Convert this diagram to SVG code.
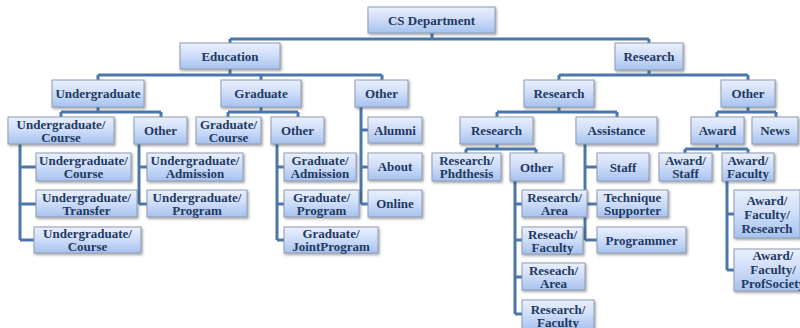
<svg xmlns="http://www.w3.org/2000/svg" width="800" height="328" viewBox="0 0 800 328">
<defs>
<linearGradient id="g" x1="0" y1="0" x2="0" y2="1">
<stop offset="0" stop-color="#eaf0fd"/>
<stop offset="0.5" stop-color="#cddcf8"/>
<stop offset="1" stop-color="#a6c2ef"/>
</linearGradient>
<filter id="sh" x="-10%" y="-20%" width="130%" height="160%">
<feDropShadow dx="1.2" dy="1.5" stdDeviation="1" flood-color="#333" flood-opacity="0.45"/>
</filter>
<style>
.b{fill:url(#g);stroke:#8e9cb2;stroke-width:1;filter:url(#sh)}
.t{font-family:"Liberation Serif","Times New Roman",serif;font-weight:bold;font-size:13px;fill:#1f3a62;text-anchor:middle}
.c{fill:none;stroke:#4a76ab;stroke-width:3}
</style>
</defs>
<rect width="800" height="328" fill="#ffffff"/>
<g id="connectors">
<path class="c" d="M432 33V39M230 39H649M230 39V43M649 39V43"/>
<path class="c" d="M230 69V75M98 75H382M98 75V80M261 75V80M382 75V80"/>
<path class="c" d="M649 70V75M559 75H748M559 75V80M748 75V80"/>
<path class="c" d="M98 107V112M61 112H161M61 112V117M161 112V117"/>
<path class="c" d="M261 107V112M228 112H298M228 112V117M298 112V117"/>
<path class="c" d="M361 107V204M361 130H368M361 167H368M361 204H368"/>
<path class="c" d="M559 107V112M497 112H617M497 112V117M617 112V117"/>
<path class="c" d="M748 107V112M717 112H776M717 112V117M776 112V117"/>
<path class="c" d="M20 144V240M20 167H36M20 204H36M20 240H34"/>
<path class="c" d="M139 144V204M139 167H147M139 204H147"/>
<path class="c" d="M277 144V240M277 167H284M277 204H284M277 240H284"/>
<path class="c" d="M497 144V149M466 149H536M466 149V153M536 149V153"/>
<path class="c" d="M585 144V240M585 167H597M585 204H597M585 240H597"/>
<path class="c" d="M515 181V314M515 204H522M515 240H522M515 277H522M515 314H522"/>
<path class="c" d="M717 144V149M685 149H748M685 149V153M748 149V153"/>
<path class="c" d="M727 181V270M727 214H734M727 270H734"/>
</g>
<g id="cs-department"><rect class="b" x="368" y="7" width="127" height="26"/><text class="t" x="431.5" y="24.5">CS Department</text></g>
<g id="education"><rect class="b" x="180" y="43" width="100" height="26"/><text class="t" x="230" y="60.5">Education</text></g>
<g id="research"><rect class="b" x="615" y="43" width="68" height="27"/><text class="t" x="649" y="61">Research</text></g>
<g id="undergraduate"><rect class="b" x="52" y="80" width="92" height="27"/><text class="t" x="98" y="98">Undergraduate</text></g>
<g id="graduate"><rect class="b" x="221" y="80" width="80" height="27"/><text class="t" x="261" y="98">Graduate</text></g>
<g id="edu-other"><rect class="b" x="355" y="80" width="53" height="27"/><text class="t" x="381.5" y="98">Other</text></g>
<g id="research-research"><rect class="b" x="524" y="80" width="70" height="27"/><text class="t" x="559" y="98">Research</text></g>
<g id="research-other"><rect class="b" x="721" y="80" width="54" height="27"/><text class="t" x="748" y="98">Other</text></g>
<g id="ug-course"><rect class="b" x="8" y="117" width="106" height="27"/><text class="t" x="61" y="128.5">Undergraduate/</text><text class="t" x="61" y="141.5">Course</text></g>
<g id="ug-other"><rect class="b" x="134" y="117" width="53" height="27"/><text class="t" x="160.5" y="135">Other</text></g>
<g id="grad-course"><rect class="b" x="196" y="117" width="65" height="27"/><text class="t" x="228.5" y="128.5">Graduate/</text><text class="t" x="228.5" y="141.5">Course</text></g>
<g id="grad-other"><rect class="b" x="271" y="117" width="53" height="27"/><text class="t" x="297.5" y="135">Other</text></g>
<g id="alumni"><rect class="b" x="368" y="117" width="54" height="26"/><text class="t" x="395" y="134.5">Alumni</text></g>
<g id="about"><rect class="b" x="368" y="153" width="54" height="27"/><text class="t" x="395" y="171">About</text></g>
<g id="online"><rect class="b" x="368" y="190" width="54" height="27"/><text class="t" x="395" y="208">Online</text></g>
<g id="research-l3"><rect class="b" x="460" y="117" width="73" height="27"/><text class="t" x="496.5" y="135">Research</text></g>
<g id="assistance"><rect class="b" x="576" y="117" width="81" height="27"/><text class="t" x="616.5" y="135">Assistance</text></g>
<g id="award"><rect class="b" x="691" y="117" width="53" height="27"/><text class="t" x="717.5" y="135">Award</text></g>
<g id="news"><rect class="b" x="752" y="117" width="46" height="27"/><text class="t" x="775" y="135">News</text></g>
<g id="ug-course-2"><rect class="b" x="36" y="153" width="95" height="28"/><text class="t" x="83.5" y="165">Undergraduate/</text><text class="t" x="83.5" y="178">Course</text></g>
<g id="ug-transfer"><rect class="b" x="36" y="190" width="101" height="27"/><text class="t" x="86.5" y="201.5">Undergraduate/</text><text class="t" x="86.5" y="214.5">Transfer</text></g>
<g id="ug-course-3"><rect class="b" x="34" y="227" width="107" height="26"/><text class="t" x="87.5" y="238">Undergraduate/</text><text class="t" x="87.5" y="251">Course</text></g>
<g id="ug-admission"><rect class="b" x="147" y="153" width="96" height="28"/><text class="t" x="195" y="165">Undergraduate/</text><text class="t" x="195" y="178">Admission</text></g>
<g id="ug-program"><rect class="b" x="147" y="190" width="100" height="27"/><text class="t" x="197" y="201.5">Undergraduate/</text><text class="t" x="197" y="214.5">Program</text></g>
<g id="grad-admission"><rect class="b" x="284" y="153" width="72" height="28"/><text class="t" x="320" y="165">Graduate/</text><text class="t" x="320" y="178">Admission</text></g>
<g id="grad-program"><rect class="b" x="284" y="190" width="75" height="27"/><text class="t" x="321.5" y="201.5">Graduate/</text><text class="t" x="321.5" y="214.5">Program</text></g>
<g id="grad-jointprogram"><rect class="b" x="284" y="227" width="94" height="26"/><text class="t" x="331" y="238">Graduate/</text><text class="t" x="331" y="251">JointProgram</text></g>
<g id="research-phdthesis"><rect class="b" x="432" y="153" width="69" height="28"/><text class="t" x="466.5" y="165">Research/</text><text class="t" x="466.5" y="178">Phdthesis</text></g>
<g id="research-other-l4"><rect class="b" x="510" y="153" width="53" height="28"/><text class="t" x="536.5" y="171.5">Other</text></g>
<g id="research-area"><rect class="b" x="522" y="190" width="65" height="27"/><text class="t" x="554.5" y="201.5">Research/</text><text class="t" x="554.5" y="214.5">Area</text></g>
<g id="reseach-faculty"><rect class="b" x="522" y="227" width="61" height="27"/><text class="t" x="552.5" y="238.5">Reseach/</text><text class="t" x="552.5" y="251.5">Faculty</text></g>
<g id="reseach-area"><rect class="b" x="522" y="263" width="63" height="27"/><text class="t" x="553.5" y="274.5">Reseach/</text><text class="t" x="553.5" y="287.5">Area</text></g>
<g id="research-faculty"><rect class="b" x="522" y="300" width="72" height="30"/><text class="t" x="558" y="313.5">Research/</text><text class="t" x="558" y="326.5">Faculty</text></g>
<g id="staff"><rect class="b" x="597" y="153" width="52" height="28"/><text class="t" x="623" y="171.5">Staff</text></g>
<g id="technique-supporter"><rect class="b" x="597" y="190" width="71" height="27"/><text class="t" x="632.5" y="201.5">Technique</text><text class="t" x="632.5" y="214.5">Supporter</text></g>
<g id="programmer"><rect class="b" x="597" y="227" width="89" height="26"/><text class="t" x="641.5" y="244.5">Programmer</text></g>
<g id="award-staff"><rect class="b" x="659" y="153" width="53" height="28"/><text class="t" x="685.5" y="165">Award/</text><text class="t" x="685.5" y="178">Staff</text></g>
<g id="award-faculty"><rect class="b" x="722" y="153" width="52" height="28"/><text class="t" x="748" y="165">Award/</text><text class="t" x="748" y="178">Faculty</text></g>
<g id="award-faculty-research"><rect class="b" x="734" y="190" width="66" height="48"/><text class="t" x="767" y="204.5">Award/</text><text class="t" x="767" y="218.5">Faculty/</text><text class="t" x="767" y="232.5">Research</text></g>
<g id="award-faculty-profsociety"><rect class="b" x="734" y="249" width="78" height="42"/><text class="t" x="773" y="259.5">Award/</text><text class="t" x="773" y="273.5">Faculty/</text><text class="t" x="773" y="287.5">ProfSociety</text></g>
</svg>
